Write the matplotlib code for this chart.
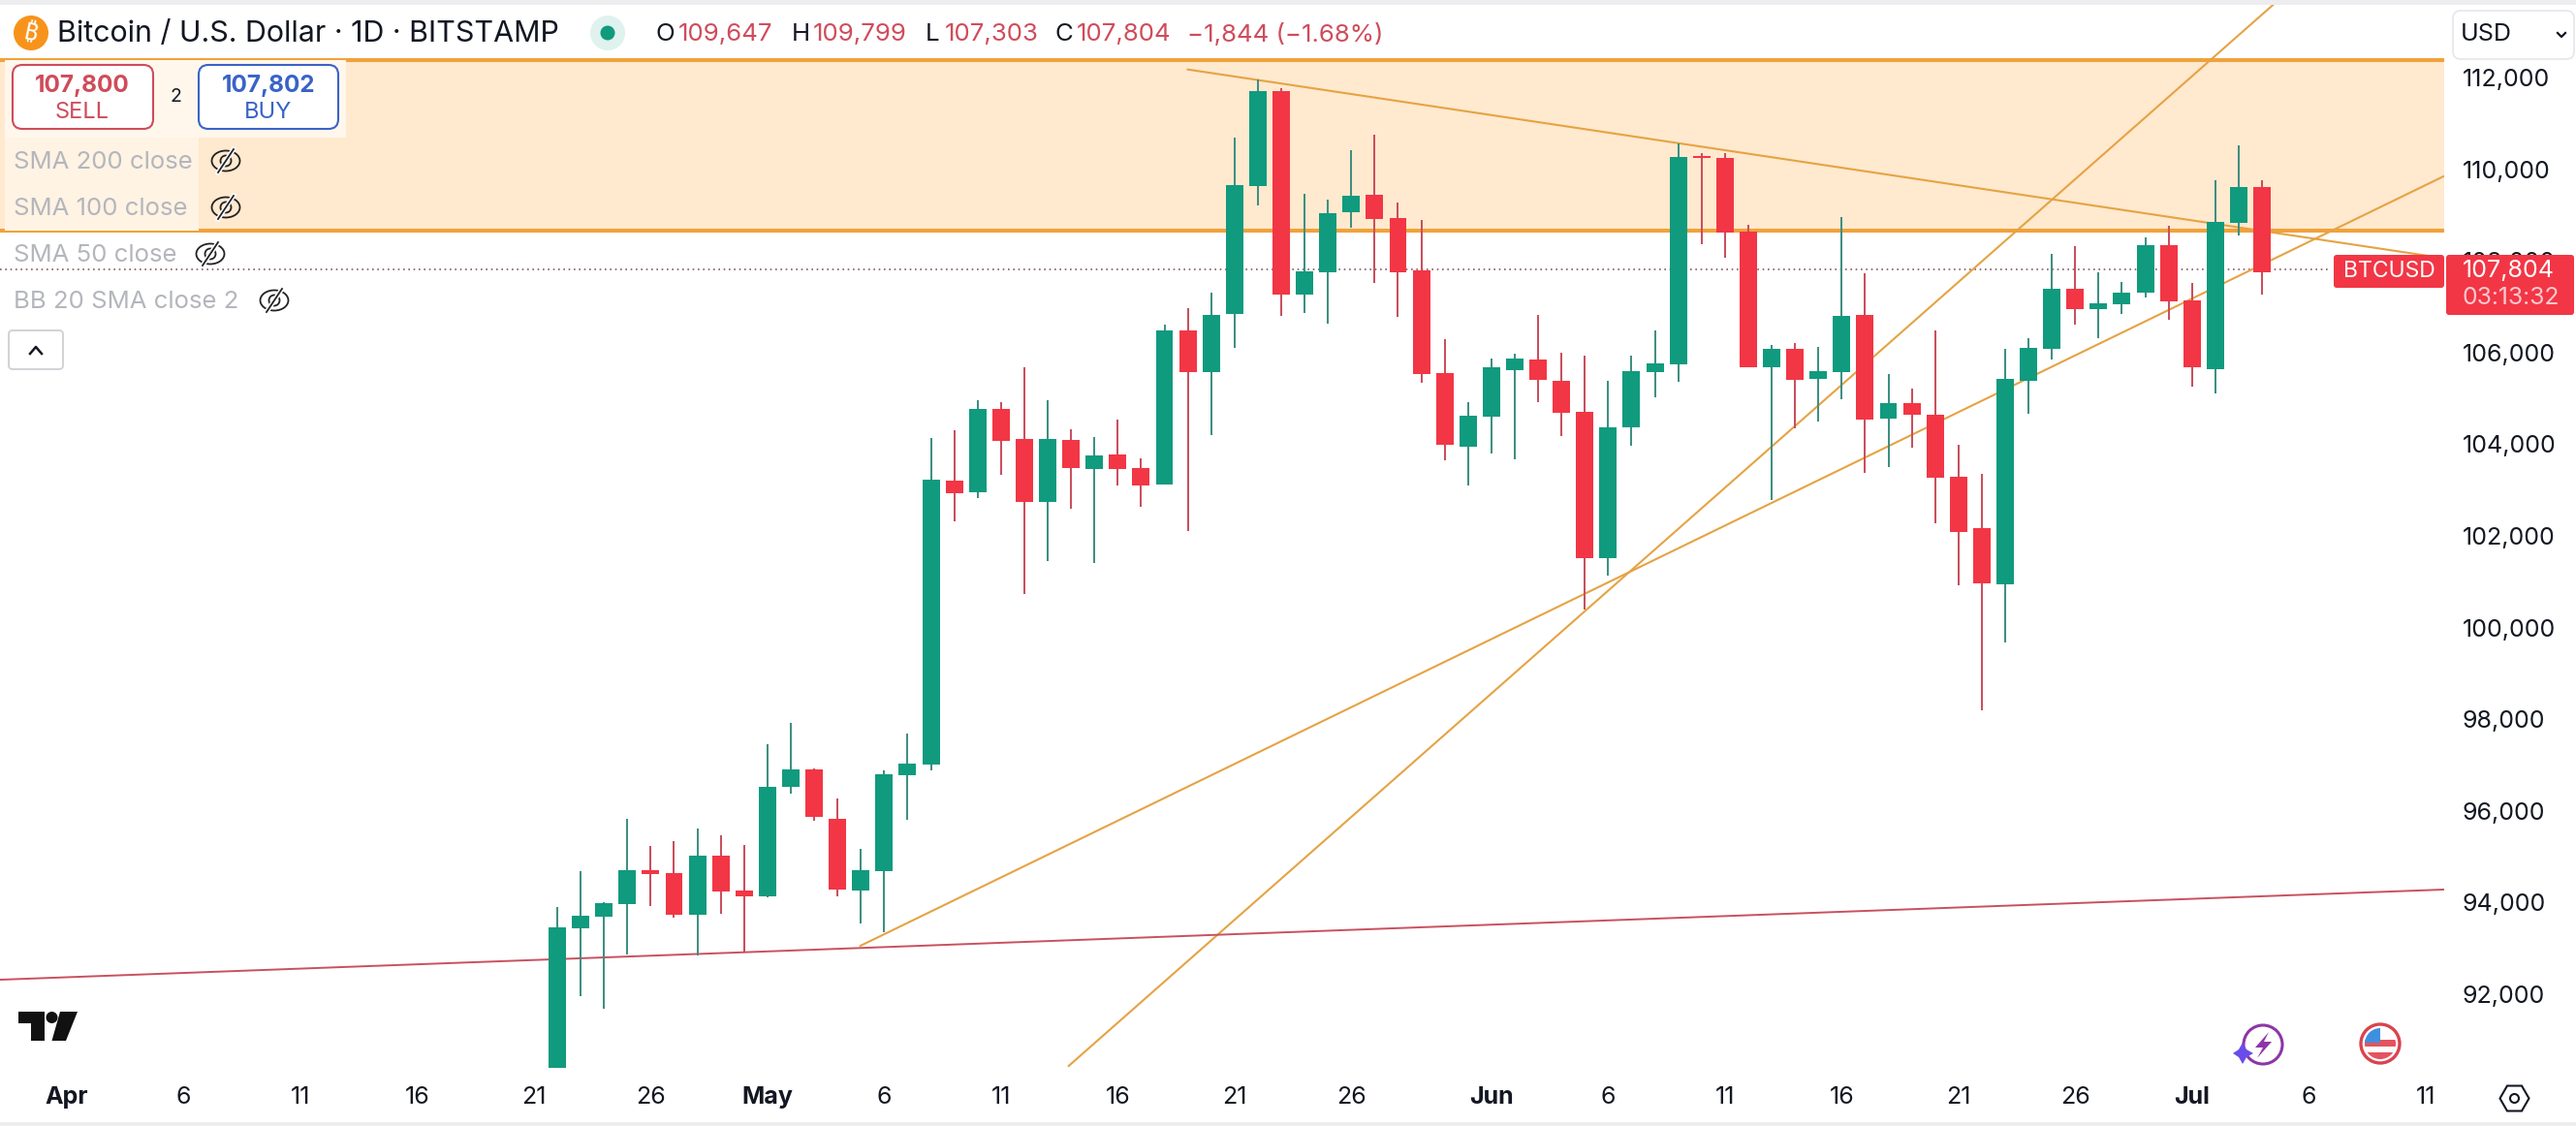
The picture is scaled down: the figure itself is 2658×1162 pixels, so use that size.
import matplotlib
matplotlib.use("Agg")
import matplotlib.pyplot as plt
from matplotlib.patches import Circle, Ellipse, FancyBboxPatch, Polygon, Rectangle, RegularPolygon

plt.rcParams['font.family'] = ['Inter', 'DejaVu Sans']

W = 2658
H = 1162

# daily candles, index 0 is Apr 1, first candle is Apr 22
first_day = 21
opens = [87500, 93446, 93699, 93974, 94707, 94644, 93742, 95024, 94263,
         94136, 96525, 96906, 95828, 94263, 94686, 96779, 97011, 103206, 102952, 104770,
         104114, 102740, 104093, 103459, 103776, 103480, 103121, 106482, 105573, 106842,
         109632, 111704, 107265, 107751, 109062, 109442, 108935, 107793, 105552, 103946,
         104601, 105616, 105848, 105383, 104706, 101521, 104368, 105573, 105742, 110288,
         110246, 108639, 105679, 106081, 105425, 105566, 106820, 104565, 104897, 104643,
         103290, 102163, 100944, 105376, 106080, 107384, 106954, 107060, 107313, 108335,
         107137, 105643, 108829, 109611]
highs = [93904, 94686, 94009, 95828, 95236, 95341, 95616, 95468, 95257,
         97455, 97921, 96927, 96272, 95172, 96885, 97688, 104136, 104305, 104960, 104918,
         105679, 104960, 104326, 104157, 104537, 103692, 106609, 106974, 107307, 110689,
         111958, 111768, 109463, 109336, 110415, 110753, 109273, 108892, 106292, 104918,
         105869, 105975, 106821, 105996, 105933, 105383, 105933, 106482, 110563, 110351,
         110351, 108787, 106165, 106207, 106123, 108955, 107729, 105531, 105213, 106482,
         103980, 103346, 106080, 106306, 108152, 108321, 107750, 107539, 108511, 108758,
         107511, 109759, 110520, 109759]
lows = [87100, 91966, 91691, 92868, 93932, 93678, 92847, 93763, 92917,
        94115, 96384, 95785, 94136, 93544, 93354, 95806, 96892, 102325, 102825, 103339,
        100739, 101458, 102592, 101416, 103100, 102635, 103121, 102106, 104199, 106102,
        109210, 106800, 106863, 106630, 108723, 107518, 106778, 105341, 103650, 103100,
        103797, 103671, 104918, 104178, 100387, 101141, 103967, 105024, 105362, 108364,
        108068, 105679, 102783, 104347, 104495, 104988, 103367, 103508, 103931, 102276,
        100927, 98204, 99675, 104671, 105855, 106616, 106313, 106848, 107208, 106715,
        105263, 105115, 108561, 107264]
closes = [93460, 93713, 93988, 94707, 94622, 93742, 95024, 94249, 94136,
          96525, 96906, 95870, 94284, 94707, 96800, 97033, 103227, 102931, 104770, 104072,
          102740, 104114, 103480, 103755, 103459, 103100, 106482, 105573, 106821, 109653,
          111704, 107265, 107772, 109040, 109421, 108914, 107751, 105531, 103988, 104622,
          105679, 105869, 105404, 104686, 101521, 104368, 105594, 105763, 110267, 110246,
          108618, 105679, 106081, 105404, 105594, 106800, 104544, 104897, 104650, 103275,
          102092, 100965, 105418, 106094, 107384, 106954, 107067, 107299, 108335, 107123,
          105672, 108843, 109611, 107757]

price_ticks = [92000, 94000, 96000, 98000, 100000, 102000, 104000, 106000, 108000, 110000, 112000]
date_ticks = [0, 5, 10, 15, 20, 25, 30, 35, 40, 45, 50, 55, 61, 66, 71, 76, 81, 86, 91, 96, 101]
date_labels = ['Apr', '6', '11', '16', '21', '26', 'May', '6', '11', '16', '21', '26',
               'Jun', '6', '11', '16', '21', '26', 'Jul', '6', '11']
month_labels = ['Apr', 'May', 'Jun', 'Jul']

band_top = 112380
band_bottom = 108660
last_price = 107804

# drawn lines: (day, price) at both ends
falling_line = ([48.0, 101.8], [112175, 108057])
support_line = ([33.98, 101.8], [93058, 109850])
steep_line = ([42.9, 94.95], [90437, 113800])
red_line = ([-2.863, 101.8], [92318, 94285])

GREEN = '#109A7E'
RED = '#F23645'
GREEN_WICK = '#3F8F82'
RED_WICK = '#C8505E'
ORANGE = '#F0A23B'
LINE_ORANGE = '#E5A344'
DARK = '#131722'
PALE = '#B4B6BC'

fig = plt.figure(figsize=(W / 100, H / 100), dpi=100, facecolor='white')

# main chart, xlim and ylim match the pixel scale of the screenshot
ax = fig.add_axes([0, (H - 1102) / H, 2522 / W, (1102 - 5) / H])
ax.set_xlim(-2.863, 101.8)
ax.set_ylim(90395, 113585)
for s in ax.spines.values():
    s.set_visible(False)

ax.axhspan(band_bottom, band_top, color='#FFE9CF', lw=0, zorder=1)
ax.hlines([band_top, band_bottom], -2.863, 101.8, color=ORANGE, lw=2.9, zorder=2)
ax.hlines(last_price, -2.863, 96.9, color='#8A5A62', lw=1.2, linestyles=(0, (1, 2.2)), zorder=2)

for line in [falling_line, support_line, steep_line]:
    ax.plot(line[0], line[1], color=LINE_ORANGE, lw=1.5, zorder=3)
ax.plot(red_line[0], red_line[1], color='#C9505F', lw=1.4, zorder=3)

for i in range(len(opens)):
    day = first_day + i
    up = closes[i] >= opens[i]
    ax.vlines(day, lows[i], highs[i], color=GREEN_WICK if up else RED_WICK, lw=1.45, zorder=4)
    ax.bar(day, abs(closes[i] - opens[i]), bottom=min(opens[i], closes[i]), width=0.745,
           color=GREEN if up else RED, lw=0, zorder=5)

ax.yaxis.tick_right()
ax.set_yticks(price_ticks)
ax.set_yticklabels([f'{p:,}' for p in price_ticks], fontsize=18, color=DARK)
ax.set_xticks(date_ticks)
ax.set_xticklabels(date_labels, fontsize=18, color=DARK)
ax.tick_params(axis='both', length=0)
ax.tick_params(axis='y', pad=13.5)
ax.tick_params(axis='x', pad=14)
for lab in ax.get_xticklabels():
    if lab.get_text() in month_labels:
        lab.set_fontweight('bold')

# everything around the chart sits on an overlay in pixel coordinates
ui = fig.add_axes([0, 0, 1, 1], zorder=10)
ui.set_xlim(0, W)
ui.set_ylim(H, 0)
ui.axis('off')
ui.patch.set_alpha(0)

ui.add_patch(Rectangle((0, 0), W, 5, color='#EDEDEF', lw=0))
ui.add_patch(Rectangle((0, 1158), W, 4, color='#EDEDEF', lw=0))


def box(x0, y0, x1, y1, edge, face='white', r=10, lw=1.5):
    ui.add_patch(FancyBboxPatch((x0 + r, y0 + r), x1 - x0 - 2 * r, y1 - y0 - 2 * r,
                                boxstyle=f'round,pad={r},rounding_size={r}',
                                fc=face, ec=edge, lw=lw))


def eye(x, y):
    ui.add_patch(Ellipse((x, y), 29, 21, fc='none', ec='#222222', lw=1.3))
    ui.add_patch(Circle((x, y), 5.5, fc='none', ec='#222222', lw=1.3))
    ui.plot([x - 8, x + 8], [y + 12, y - 12], color='white', lw=3.5)
    ui.plot([x - 8, x + 8], [y + 12, y - 12], color='#222222', lw=1.3)


# header
ui.add_patch(Circle((32, 34), 18, color='#F7931A', lw=0))
ui.text(32, 34, '₿', color='white', fontsize=18, ha='center', va='center',
        rotation=-12, family=['DejaVu Sans', 'Noto Sans', 'Roboto', 'Liberation Sans', 'Open Sans', 'Lato'])
ui.text(59, 35, 'Bitcoin / U.S. Dollar · 1D · BITSTAMP', color=DARK, fontsize=21.9, va='center')
ui.add_patch(Circle((627, 34), 18, color='#DFF2EE', lw=0))
ui.add_patch(Circle((627, 34), 7.5, color=GREEN, lw=0))

header_parts = [(677, 'O', DARK), (700, '109,647', '#CF4C5B'), (817, 'H', DARK), (839, '109,799', '#CF4C5B'),
                (955, 'L', DARK), (975, '107,303', '#CF4C5B'), (1088, 'C', DARK), (1111, '107,804', '#CF4C5B'),
                (1225, '−1,844 (−1.68%)', '#CF4C5B')]
for x, s, c in header_parts:
    ui.text(x, 36, s, color=c, fontsize=18.6, va='center')

# trade buttons and legend backing
ui.add_patch(Rectangle((5, 62), 352, 80, color='#FFF7EC', lw=0))
ui.add_patch(Rectangle((5, 142), 200, 96, color='#FFF3E4', lw=0))
box(13, 67, 158, 133, '#CF4C5B')
box(205, 67, 349, 133, '#3A63C8')
ui.text(85, 89, '107,800', color='#CF4C5B', fontsize=17.5, fontweight='bold', ha='center', va='center')
ui.text(85, 116, 'SELL', color='#CF4C5B', fontsize=17, ha='center', va='center')
ui.text(181, 100, '2', color=DARK, fontsize=14, ha='center', va='center')
ui.text(277, 89, '107,802', color='#3A63C8', fontsize=17.5, fontweight='bold', ha='center', va='center')
ui.text(277, 116, 'BUY', color='#3A63C8', fontsize=17, ha='center', va='center')

legend_rows = [(167, 'SMA 200 close', 233), (215, 'SMA 100 close', 233),
               (263, 'SMA 50 close', 217), (311, 'BB 20 SMA close 2', 283)]
for y, s, eye_x in legend_rows:
    ui.text(14, y, s, color=PALE, fontsize=18.5, va='center')
    eye(eye_x, y - 1)

box(9, 341, 65, 381, '#CFCFD4', r=4, lw=1.3)
ui.plot([31, 37, 43], [365, 358, 365], color=DARK, lw=1.8)

# top right currency button
box(2531, 11, 2656, 61, '#E6E6EA', r=8, lw=1.2)
ui.text(2539, 36, 'USD', color=DARK, fontsize=18, va='center')
ui.plot([2639, 2643, 2647], [34, 38, 34], color=DARK, lw=1.6)

# last price tags
box(2408, 263, 2522, 297, RED, face=RED, r=3, lw=0)
ui.text(2465, 280, 'BTCUSD', color='white', fontsize=16.5, ha='center', va='center')
box(2524, 263, 2656, 325, RED, face=RED, r=3, lw=0)
ui.text(2541, 279, f'{last_price:,}', color='white', fontsize=18, va='center')
ui.text(2541, 307, '03:13:32', color='#FBC9CE', fontsize=17.8, va='center')

# tradingview logo
ui.add_patch(Polygon([(19, 1044), (46, 1044), (46, 1074), (32, 1074), (32, 1056), (19, 1056)], color='#111111', lw=0))
ui.add_patch(Circle((53.5, 1050), 6, color='#111111', lw=0))
ui.add_patch(Polygon([(62, 1044), (80, 1044), (68, 1074), (53.5, 1074)], color='#111111', lw=0))

# settings hexagon
ui.add_patch(RegularPolygon((2594.5, 1133.5), 6, radius=15, orientation=0.5236, fc='none', ec=DARK, lw=1.5))
ui.add_patch(Circle((2594.5, 1133.5), 4.5, fc='none', ec=DARK, lw=1.5))

# lightning badge
ui.add_patch(Circle((2335, 1078), 20, fc='none', ec='#8E35A8', lw=2.2))
ui.add_patch(Polygon([(2341, 1065), (2327, 1081), (2335, 1081), (2329, 1092), (2344, 1075), (2336, 1075)], color='#8E35A8', lw=0))
ui.add_patch(Polygon([(2314, 1076), (2318, 1083), (2325, 1087), (2318, 1091), (2314, 1098), (2310, 1091), (2304, 1087), (2310, 1083)],
                     color='#6A4CE8', lw=0))

# flag badge
ui.add_patch(Circle((2456, 1077), 20, fc='white', ec='#D9434E', lw=2.4))
clip = Circle((2456, 1077), 16, transform=ui.transData)
for y, h in [(1073, 7), (1086, 8)]:
    r = Rectangle((2438, y), 36, h, color='#E5535E', lw=0)
    ui.add_patch(r)
    r.set_clip_path(clip)
canton = Rectangle((2438, 1060), 18, 16, color='#3F8FE0', lw=0)
ui.add_patch(canton)
canton.set_clip_path(clip)

fig.savefig('out.png', dpi=100, facecolor='white')
